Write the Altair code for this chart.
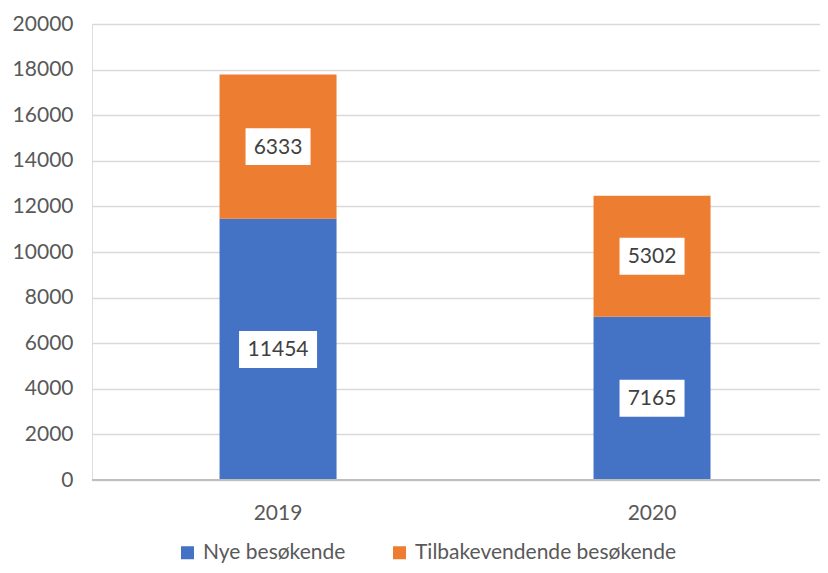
import altair as alt
import pandas as pd

years = ["2019", "2020"]
series = ["Nye besøkende", "Tilbakevendende besøkende"]
nye = [11454, 7165]
tilbake = [6333, 5302]
y_ticks = list(range(0, 20001, 2000))
colors = ["#4472C4", "#ED7D31"]

rows = []
for i, yr in enumerate(years):
    rows.append({"year": yr, "series": series[0], "order": 0, "value": nye[i], "start": 0, "end": nye[i]})
    rows.append({"year": yr, "series": series[1], "order": 1, "value": tilbake[i], "start": nye[i], "end": nye[i] + tilbake[i]})
df = pd.DataFrame(rows)

FONT = "Lato"

x_enc = alt.X("year:N", title=None,
              scale=alt.Scale(paddingInner=0.3, paddingOuter=0.1233, align=0.598),
              axis=alt.Axis(labelAngle=0, labelFont=FONT, labelFontSize=21, labelColor="#595959",
                            ticks=False, domain=False, labelPadding=22, grid=False))
y_scale = alt.Scale(domain=[0, 20000], nice=False)

base = alt.Chart(df)

bars = base.mark_bar(size=117).encode(
    x=x_enc,
    y=alt.Y("start:Q", title=None, scale=y_scale,
            axis=alt.Axis(values=y_ticks, format="d", labelFont=FONT, labelFontSize=21, labelColor="#595959",
                          ticks=False, domain=False, labelPadding=19,
                          gridColor="#d9d9d9", gridWidth=1.5)),
    y2="end:Q",
    color=alt.Color("series:N", sort=series,
                    scale=alt.Scale(domain=series, range=colors),
                    legend=alt.Legend(title=None, orient="none", direction="horizontal",
                                      legendX=85, legendY=518,
                                      symbolType="square", symbolSize=169, symbolStrokeWidth=0,
                                      labelFont=FONT, labelFontSize=21, labelColor="#595959",
                                      labelLimit=0, labelOffset=5, columnPadding=43)),
)

baseline = base.mark_rule(color="#bfbfbf", strokeWidth=1.5).encode(
    y=alt.Y("z:Q", scale=y_scale),
).transform_calculate(z="0")

boxes = base.transform_calculate(
    mid="(datum.start + datum.end) / 2",
    b0="datum.mid - 810",
    b1="datum.mid + 810",
    bw="13 * length(toString(datum.value)) + 13",
).mark_bar(color="white").encode(
    x=alt.X("year:N"),
    y=alt.Y("b0:Q", scale=y_scale),
    y2="b1:Q",
    size=alt.Size("bw:Q", scale=None, legend=None),
)

labels = base.transform_calculate(
    mid="(datum.start + datum.end) / 2",
).mark_text(font=FONT, fontSize=21, color="#404040", baseline="middle", dy=1).encode(
    x=alt.X("year:N"),
    y=alt.Y("mid:Q", scale=y_scale),
    text=alt.Text("value:Q", format="d"),
)

chart = alt.layer(bars, baseline, boxes, labels).properties(
    width=728, height=456,
    padding={"left": 84, "top": 16, "right": 0, "bottom": 85},
    autosize=alt.AutoSizeParams(type="none"),
).configure_view(stroke=None).configure(background="white")

chart.save("out.html", embed_options={"renderer": "svg", "actions": False})
